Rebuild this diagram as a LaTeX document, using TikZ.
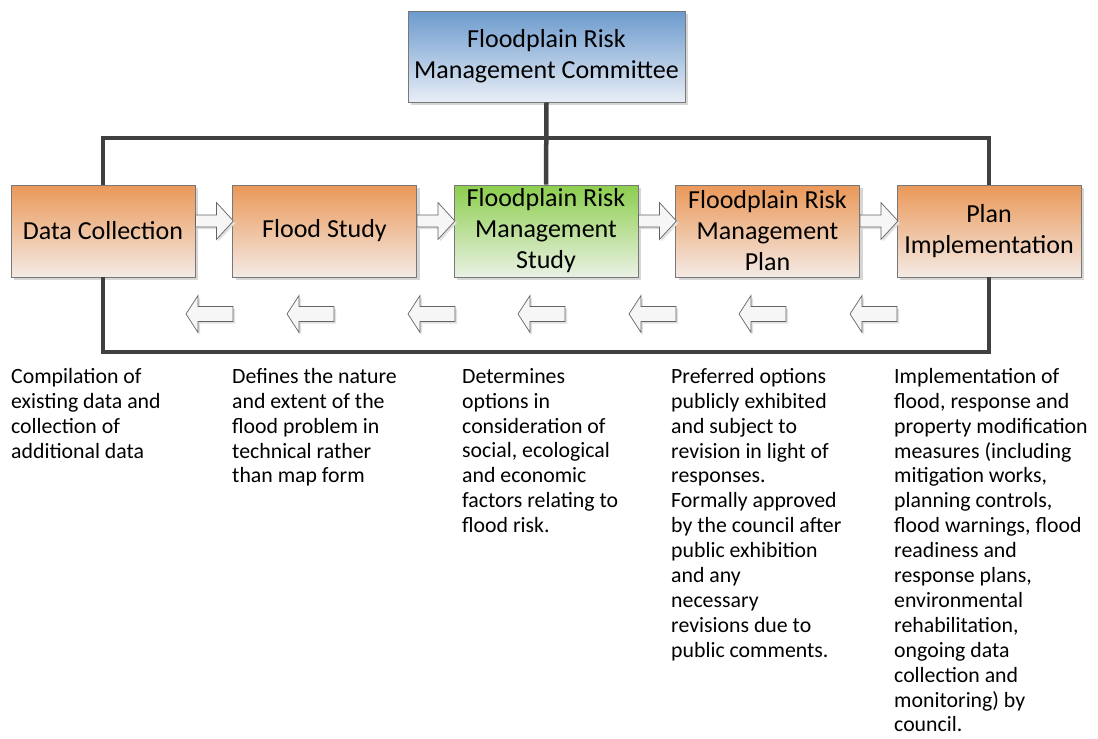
\documentclass[tikz,border=0pt]{standalone}
\usepackage{fontspec}
\setmainfont{Carlito}
\usetikzlibrary{shadows,calc}
\definecolor{linec}{RGB}{64,64,64}
\definecolor{boxborder}{RGB}{120,120,120}
\definecolor{orTop}{RGB}{234,152,88}
\definecolor{orBot}{RGB}{244,234,229}
\definecolor{grTop}{RGB}{140,206,78}
\definecolor{grBot}{RGB}{234,241,228}
\definecolor{blTop}{RGB}{108,154,205}
\definecolor{blBot}{RGB}{232,238,246}
\definecolor{arrBorder}{RGB}{100,100,100}
\definecolor{arrFill}{RGB}{246,246,246}
\tikzset{
  box/.style={draw=boxborder, line width=0.8pt, minimum width=184pt, minimum height=92pt,
    inner sep=0pt, align=center, font=\fontsize{26}{31}\selectfont,
    general shadow={fill=black!16, shadow xshift=3pt, shadow yshift=-3pt}},
  orangebox/.style={box, top color=orTop, bottom color=orBot},
  greenbox/.style={box, top color=grTop, bottom color=grBot},
  bluebox/.style={box, top color=blTop, bottom color=blBot, minimum width=277pt, minimum height=91pt},
  desc/.style={anchor=north west, inner sep=0pt, align=left, font=\fontsize{21.8}{24.9}\selectfont},
  link/.style={draw=linec, line width=4.5pt},
  arrowshape/.style={draw=arrBorder, line width=0.7pt, fill=arrFill, line join=miter,
    general shadow={fill=black!12, shadow xshift=2pt, shadow yshift=-2pt}},
  rarrow/.pic={\path[arrowshape] (0,-6) -- (21,-6) -- (21,-18.5) -- (38,0) -- (21,18.5) -- (21,6) -- (0,6) -- cycle;},
  larrow/.pic={\path[arrowshape] (0,0) -- (12,-18.5) -- (12,-7.5) -- (47,-7.5) -- (47,7.5) -- (12,7.5) -- (12,18.5) -- cycle;}
}
\begin{document}
\begin{tikzpicture}[x=1pt,y=-1pt]
\useasboundingbox (0,0) rectangle (1098,739);
\node[bluebox] (top) at (546.5,56.5) {Floodplain Risk\\Management Committee};
\node[orangebox] (dc) at (103,231) {Data Collection};
\node[orangebox] (fs) at (324.5,231) {Flood Study};
\node[greenbox] (frms) at (546,231) {Floodplain Risk\\Management\\Study};
\node[orangebox] (frmp) at (767.5,231) {Floodplain Risk\\Management\\Plan};
\node[orangebox] (pi) at (989,231) {Plan\\Implementation};

\coordinate (barT) at (0,138);
\coordinate (barB) at (0,352);
\draw[link] (top.south) -- (frms.north);
\draw[link] (dc.north) -- (dc.north |- barT) -| (pi.north);
\draw[link] (dc.south) -- (dc.south |- barB) -| (pi.south);

\path ($(dc.east)+(0,-10)$) pic {rarrow};
\path ($(fs.east)+(0,-10)$) pic {rarrow};
\path ($(frms.east)+(0,-10)$) pic {rarrow};
\path ($(frmp.east)+(0,-10)$) pic {rarrow};

\foreach \x in {186,287,408,518,629,739,850} {
  \path (\x,314) pic {larrow};
}

\node[desc] (d1) at (11,368) {Compilation of\\existing data and\\collection of\\additional data};
\node[desc] (d2) at (232,368) {Defines the nature\\and extent of the\\flood problem in\\technical rather\\than map form};
\node[desc] (d3) at (462,368) {Determines\\options in\\consideration of\\social, ecological\\and economic\\factors relating to\\flood risk.};
\node[desc] (d4) at (671,368) {Preferred options\\publicly exhibited\\and subject to\\revision in light of\\responses.\\Formally approved\\by the council after\\public exhibition\\and any\\necessary\\revisions due to\\public comments.};
\node[desc] (d5) at (894,368) {Implementation of\\flood, response and\\property modification\\measures (including\\mitigation works,\\planning controls,\\flood warnings, flood\\readiness and\\response plans,\\environmental\\rehabilitation,\\ongoing data\\collection and\\monitoring) by\\council.};
\end{tikzpicture}
\end{document}
